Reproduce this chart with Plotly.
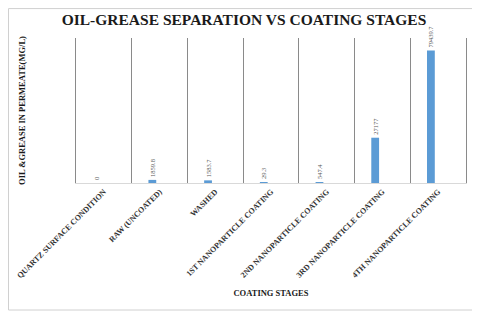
import plotly.graph_objects as go

categories = ["QUARTZ SURFACE CONDITION", "RAW (UNCOATED)", "WASHED",
              "1ST NANOPARTICLE COATING", "2ND NANOPARTICLE COATING",
              "3RD NANOPARTICLE COATING", "4TH NANOPARTICLE COATING"]
values = [0, 1859.8, 1583.7, 29.3, 547.4, 27177, 79439.7]
value_labels = ["0", "1859.8", "1583.7", "29.3", "547.4", "27177", "79439.7"]

serif = "Times New Roman"

fig = go.Figure()
fig.add_trace(go.Bar(
    x=categories, y=values,
    width=0.14, offset=-0.2,
    marker=dict(color="#5B9BD5", line=dict(width=0)),
    text=value_labels, textposition="outside", textangle=-90,
    constraintext="none",
    textfont=dict(family=serif, size=6.5, color="#595959"),
    cliponaxis=False,
))

# page has an 8px body margin, so the figure is 8px smaller than the window
fig.update_layout(
    width=472, height=309,
    margin=dict(l=68, r=14, t=30, b=134, autoexpand=False),
    paper_bgcolor="white", plot_bgcolor="white",
    showlegend=False,
    font=dict(family=serif),
    title=dict(text="OIL-GREASE SEPARATION VS COATING STAGES",
               x=0.5, xanchor="center", y=0.961, yanchor="middle",
               font=dict(family=serif, size=15.5,
                         weight="bold", color="#1a1a1a")),
    xaxis=dict(
        type="category", tickson="boundaries", ticks="",
        automargin=False,
        showgrid=True, gridcolor="#8a8a8a", gridwidth=1,
        showline=True, linecolor="#d9d9d9", linewidth=1,
        tickangle=-45,
        tickfont=dict(family=serif, size=8, weight="bold", color="#333333"),
        title=dict(text="COATING STAGES", standoff=10,
                   font=dict(family=serif, size=8.5, weight="bold", color="#1a1a1a")),
    ),
    yaxis=dict(
        range=[0, 87000], showgrid=False, zeroline=False,
        automargin=False,
        showticklabels=False, ticks="",
        showline=True, mirror=True, linecolor="#8a8a8a", linewidth=1,
        title=dict(text="OIL &GREASE IN PERMEATE(MG/L)", standoff=48,
                   font=dict(family=serif, size=8.5, weight="bold", color="#1a1a1a")),
    ),
    shapes=[dict(type="rect", xref="paper", yref="paper",
                 x0=-0.173, x1=1.023, y0=-0.876, y1=1.203,
                 line=dict(color="#d0d0d0", width=1), layer="below")],
)

fig.write_html("out.html")
